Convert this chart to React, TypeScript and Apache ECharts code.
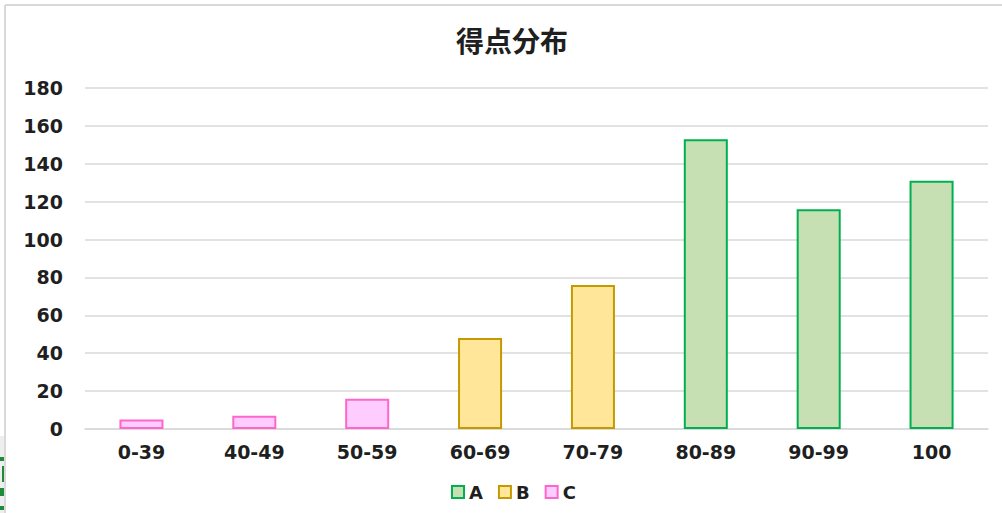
import React, { useEffect, useRef } from "react";
import * as echarts from "echarts";

const categories = ["0-39", "40-49", "50-59", "60-69", "70-79", "80-89", "90-99", "100"];
const seriesA = [null, null, null, null, null, 153, 116, 131];
const seriesB = [null, null, null, 48, 76, null, null, null];
const seriesC = [5, 7, 16, null, null, null, null, null];
const yTicks = { min: 0, max: 180, interval: 20 };

const labelFont = "'DejaVu Sans', Verdana, sans-serif";

export default function App() {
  const ref = useRef<HTMLDivElement>(null);

  useEffect(() => {
    if (!ref.current) return;
    const chart = echarts.init(ref.current, null, { renderer: "svg" });
    const bar = (name: string, data: (number | null)[], fill: string, stroke: string) => ({
      name,
      type: "bar",
      stack: "total",
      barWidth: "39%",
      data,
      itemStyle: { color: fill, borderColor: stroke, borderWidth: 2 },
    });
    chart.setOption({
      animation: false,
      backgroundColor: "#ffffff",
      title: {
        text: "得点分布",
        left: 507,
        top: 21,
        textAlign: "center",
        textStyle: {
          fontFamily: "'Noto Sans CJK JP', sans-serif",
          fontWeight: "bold",
          fontSize: 28,
          color: "#1f1f1f",
        },
      },
      grid: { left: 85, right: 14, top: 88, bottom: 84 },
      xAxis: {
        type: "category",
        data: categories,
        axisLine: { lineStyle: { color: "#d9d9d9", width: 1.5 } },
        axisTick: { show: false },
        axisLabel: {
          margin: 13,
          fontFamily: labelFont,
          fontWeight: "bold",
          fontSize: 19,
          color: "#1f1f1f",
        },
      },
      yAxis: {
        type: "value",
        min: yTicks.min,
        max: yTicks.max,
        interval: yTicks.interval,
        axisLine: { show: false },
        axisTick: { show: false },
        splitLine: { lineStyle: { color: "#d9d9d9", width: 1.5 } },
        axisLabel: {
          margin: 22,
          fontFamily: labelFont,
          fontWeight: "bold",
          fontSize: 19,
          color: "#1f1f1f",
        },
      },
      legend: {
        left: 446,
        top: 478,
        itemWidth: 12,
        itemHeight: 12,
        itemGap: 15,
        icon: "rect",
        textStyle: {
          fontFamily: labelFont,
          fontWeight: "bold",
          fontSize: 18,
          color: "#1f1f1f",
        },
      },
      series: [
        bar("A", seriesA, "#c6e0b4", "#00b050"),
        bar("B", seriesB, "#ffe699", "#c49a00"),
        bar("C", seriesC, "#ffccff", "#ff66cc"),
      ],
      graphic: [
        { type: "line", shape: { x1: 5, y1: 5, x2: 1002, y2: 5 }, style: { stroke: "#d9d9d9", lineWidth: 2 } },
        { type: "line", shape: { x1: 5, y1: 5, x2: 5, y2: 513 }, style: { stroke: "#d9d9d9", lineWidth: 2 } },
        { type: "rect", shape: { x: 0, y: 436, width: 4, height: 77 }, style: { fill: "#eeeeee" } },
        { type: "rect", shape: { x: 0, y: 457, width: 4, height: 4 }, style: { fill: "#1e8a3c" } },
        { type: "rect", shape: { x: 2, y: 466, width: 2, height: 16 }, style: { fill: "#1e8a3c" } },
        { type: "rect", shape: { x: 0, y: 488, width: 4, height: 8 }, style: { fill: "#1e8a3c" } },
        { type: "rect", shape: { x: 0, y: 506, width: 4, height: 4 }, style: { fill: "#1e8a3c" } },
      ],
    });
    return () => chart.dispose();
  }, []);

  return (
    <div
      ref={ref}
      style={{ position: "fixed", left: 0, top: 0, width: 1002, height: 513 }}
    />
  );
}
